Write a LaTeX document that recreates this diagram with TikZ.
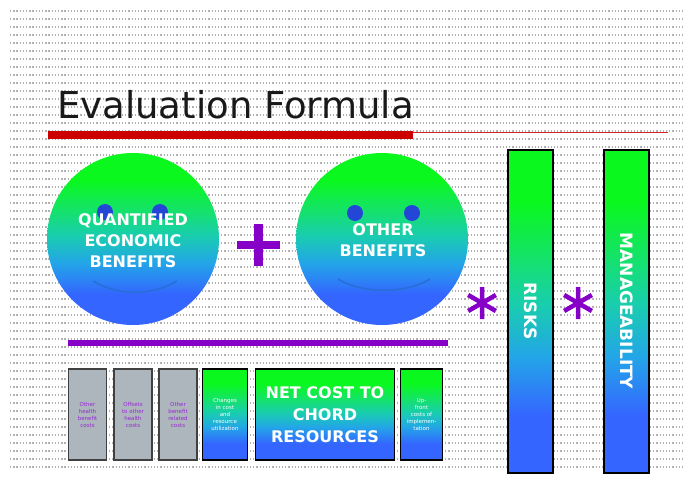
\documentclass[tikz,border=0pt]{standalone}
\usepackage{fontspec}
\setmainfont{DejaVu Sans}
\definecolor{gA}{RGB}{10,248,30}
\definecolor{gM}{RGB}{20,228,100}
\definecolor{bT}{RGB}{25,205,175}
\definecolor{bC}{RGB}{35,165,232}
\definecolor{bB}{RGB}{52,102,255}
\definecolor{eyeblue}{RGB}{35,70,215}
\definecolor{smileblue}{RGB}{40,110,215}
\definecolor{barred}{RGB}{205,0,0}
\definecolor{violetmark}{RGB}{135,0,200}
\definecolor{grayfill}{RGB}{172,182,188}
\definecolor{tinypurple}{RGB}{150,40,210}
\pgfdeclareverticalshading{gshade}{100bp}{color(0bp)=(bB); color(34bp)=(bB); color(43bp)=(bC); color(51bp)=(bT); color(59bp)=(gM); color(67bp)=(gA); color(100bp)=(gA)}
\tikzset{
  bgline/.style={gray!62, line width=1.1pt, dash pattern=on 1.3pt off 1.9pt},
  face/.style={circle, shading=gshade, inner sep=0pt, minimum size=172pt},
  gbox/.style={rectangle, draw=black, line width=1.4pt, shading=gshade, inner sep=0pt},
  graybox/.style={rectangle, draw=black!75, line width=1.4pt, fill=grayfill, inner sep=0pt, minimum width=38pt, minimum height=91pt},
  wlabel/.style={text=white, font=\bfseries\fontsize{16}{21}\selectfont, align=center, inner sep=0pt},
  barlabel/.style={text=white, font=\bfseries\fontsize{17}{20}\selectfont, rotate=-90, inner sep=0pt},
  tinytext/.style={font=\fontsize{5.5}{7}\selectfont, align=center, inner sep=0pt},
  eye/.style={fill=eyeblue},
  smile/.style={draw=smileblue, line width=1.6pt},
  starmark/.style={draw=violetmark, line width=4.5pt}
}
\begin{document}
\begin{tikzpicture}[x=1pt,y=-1pt]
\useasboundingbox (0,0) rectangle (689,477);
\fill[white] (0,0) rectangle (689,477);
% background texture
\foreach \yy in {11,19,...,471} { \draw[bgline] (10,\yy) -- (684,\yy); }
% title
\node[anchor=base west, inner sep=0pt, text=black!90, font=\fontsize{37}{40}\selectfont] (title) at (57,118) {Evaluation Formula};
\fill[barred] (48,131) rectangle (413,139);
\draw[barred!85, line width=1pt] (413,132.5) -- (668,132.5);
% face 1
\node[face] (f1) at (133,239) {};
\fill[eye] (105,212) circle (8pt);
\fill[eye] (160,212) circle (8pt);
\draw[smile] (93,281) .. controls (118,296) and (152,296) .. (177,281);
\node[wlabel] (t1) at (133,241) {QUANTIFIED\\ECONOMIC\\BENEFITS};
% plus
\draw[violetmark, line width=8.5pt] (237,245) -- (280,245) (258.5,224) -- (258.5,266);
% face 2
\node[face] (f2) at (382,239) {};
\fill[eye] (355,213) circle (8pt);
\fill[eye] (412,213) circle (8pt);
\draw[smile] (338,279) .. controls (362,294) and (406,294) .. (430,279);
\node[wlabel] (t2) at (383,240.5) {OTHER\\BENEFITS};
% asterisks
\begin{scope}[shift={(482,303)}]
\draw[starmark] (90:16pt) -- (270:16pt) (30:16pt) -- (210:16pt) (150:16pt) -- (330:16pt);
\end{scope}
\begin{scope}[shift={(578,303)}]
\draw[starmark] (90:16pt) -- (270:16pt) (30:16pt) -- (210:16pt) (150:16pt) -- (330:16pt);
\end{scope}
% bars
\node[gbox, minimum width=45pt, minimum height=323pt] (risks) at (530.5,311.5) {};
\node[barlabel] (risksT) at (530.5,311) {RISKS};
\node[gbox, minimum width=45pt, minimum height=323pt] (manage) at (626.5,311.5) {};
\node[barlabel] (manageT) at (626.5,311) {MANAGEABILITY};
% purple division line
\fill[violetmark] (68,340) rectangle (448,346);
% bottom boxes
\node[graybox] (g1) at (87.5,414.5) {};
\node[tinytext, text=tinypurple] at (g1) {Other\\health\\benefit\\costs};
\node[graybox] (g2) at (133,414.5) {};
\node[tinytext, text=tinypurple] at (g2) {Offsets\\to other\\health\\costs};
\node[graybox] (g3) at (178,414.5) {};
\node[tinytext, text=tinypurple] at (g3) {Other\\benefit\\related\\costs};
\node[gbox, minimum width=45pt, minimum height=91pt] (b4) at (225,414.5) {};
\node[tinytext, text=white] at (b4) {Changes\\in cost\\and\\resource\\utilization};
\node[gbox, minimum width=139pt, minimum height=91pt] (b5) at (325,414.5) {};
\node[wlabel, font=\bfseries\fontsize{16}{22}\selectfont] (t5) at (325,415) {NET COST TO\\CHORD\\RESOURCES};
\node[gbox, minimum width=42pt, minimum height=91pt] (b6) at (421.5,414.5) {};
\node[tinytext, text=white] at (b6) {Up-\\front\\costs of\\implemen-\\tation};
\end{tikzpicture}
\end{document}
